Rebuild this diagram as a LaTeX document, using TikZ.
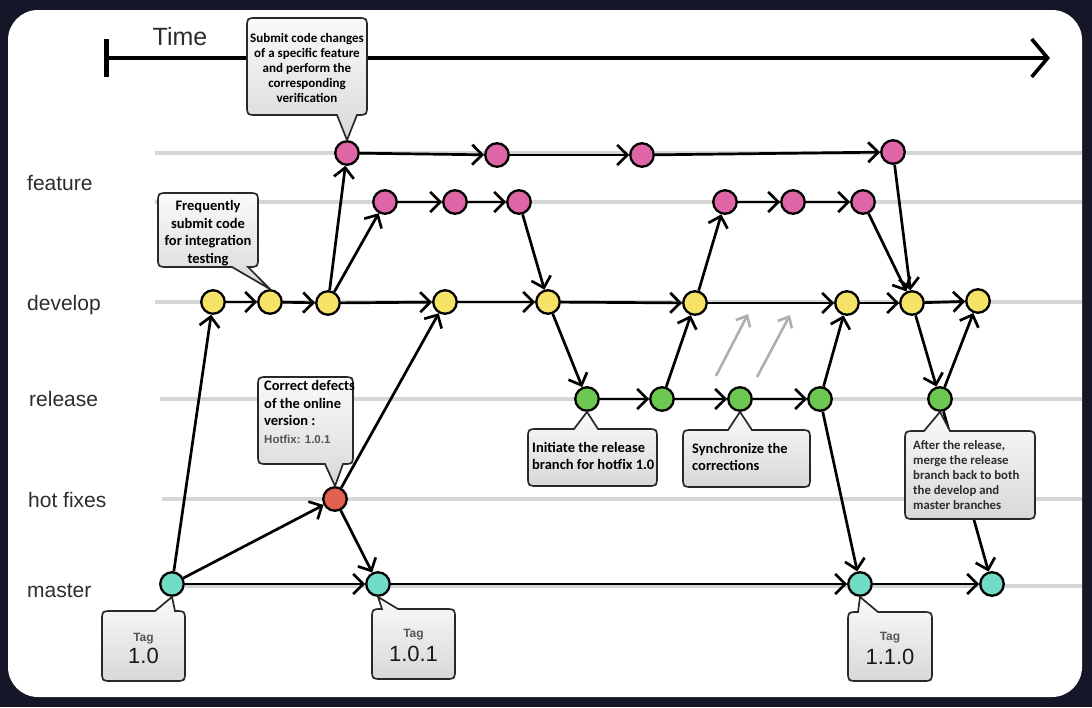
\documentclass[tikz,border=0pt]{standalone}
\usepackage{fontspec}
\setmainfont{Liberation Sans}
\newfontfamily\calfont{Carlito}
\usetikzlibrary{arrows.meta}
\definecolor{bgdark}{RGB}{21,23,41}
\definecolor{lanegray}{RGB}{214,214,214}
\definecolor{cpink}{RGB}{222,102,166}
\definecolor{cyellow}{RGB}{245,226,102}
\definecolor{cgreen}{RGB}{108,200,80}
\definecolor{cteal}{RGB}{112,220,198}
\definecolor{cred}{RGB}{226,96,80}
\definecolor{hintgray}{RGB}{175,175,175}
\definecolor{boxtop}{RGB}{250,250,250}
\definecolor{boxbot}{RGB}{216,216,216}
\definecolor{boxline}{RGB}{40,40,40}
\definecolor{labeltext}{RGB}{45,45,45}
\definecolor{tagtext}{RGB}{85,85,85}
\begin{document}
\begin{tikzpicture}[x=1pt,y=-1pt]
\tikzset{
  lane/.style={draw=lanegray, line width=3.6pt},
  commit/.style={circle, draw=black, line width=2.3pt, minimum size=23.5pt, inner sep=0pt},
  feat/.style={commit, fill=cpink},
  dev/.style={commit, fill=cyellow},
  rel/.style={commit, fill=cgreen},
  hot/.style={commit, fill=cred},
  mast/.style={commit, fill=cteal},
  flow/.style={draw=black, line width=2.7pt, -{Straight Barb[length=10pt,width=20pt,line width=2.7pt]}},
  hint/.style={draw=hintgray, line width=2.6pt, -{Straight Barb[length=9pt,width=16pt,line width=2.6pt]}},
  timeline/.style={draw=black, line width=4pt, {Bar[width=38pt,line width=5pt]}-{Straight Barb[length=16pt,width=38pt,line width=3.6pt]}},
  callbox/.style={draw=boxline, line width=1.7pt, top color=boxtop, bottom color=boxbot},
  lanelabel/.style={anchor=base west, font=\fontsize{21}{26}\selectfont, text=labeltext, inner sep=0pt},
  calltext/.style={font=\calfont\bfseries\fontsize{14.5}{17.5}\selectfont, text=black, inner sep=0pt},
  smalltext/.style={font=\calfont\bfseries\fontsize{12.8}{15}\selectfont, text=labeltext, inner sep=0pt},
  tagword/.style={anchor=base, font=\bfseries\fontsize{12}{14}\selectfont, text=tagtext, inner sep=0pt},
  tagnum/.style={anchor=base, font=\fontsize{22}{26}\selectfont, text=black!90, inner sep=0pt},
}
\useasboundingbox (0,0) rectangle (1092,707);
\fill[bgdark] (0,0) rectangle (1092,707);
\fill[white, rounded corners=30pt] (8,10) rectangle (1082,697);

% lanes
\foreach \yy/\xs in {153/155, 202/155, 302/155, 399/160, 499/162, 586/185}
  \draw[lane] (\xs,\yy) -- (1082,\yy);

% time axis
\node[anchor=base, font=\fontsize{25}{30}\selectfont, text=labeltext, inner sep=0pt] (time) at (180,45) {Time};
\coordinate (tstart) at (104,58);
\coordinate (tend) at (1050,58);
\draw[timeline] (tstart) -- (tend);

% lane labels
\node[lanelabel] (lfeature) at (27,190) {feature};
\node[lanelabel] (ldevelop) at (27,310) {develop};
\node[lanelabel] (lrelease) at (29,406) {release};
\node[lanelabel] (lhot) at (28,507) {hot fixes};
\node[lanelabel] (lmaster) at (27,597) {master};

% commits
\node[feat] (fa1) at (347,153) {};
\node[feat] (fa2) at (497,155) {};
\node[feat] (fa3) at (642,155) {};
\node[feat] (fa4) at (893,152) {};
\node[feat] (fb1) at (385,202) {};
\node[feat] (fb2) at (455,202) {};
\node[feat] (fb3) at (519,202) {};
\node[feat] (fb4) at (725,202) {};
\node[feat] (fb5) at (793,202) {};
\node[feat] (fb6) at (863,202) {};
\node[dev] (d1) at (213,302) {};
\node[dev] (d2) at (270,302) {};
\node[dev] (d3) at (328,303) {};
\node[dev] (d4) at (445,302) {};
\node[dev] (d5) at (548,302) {};
\node[dev] (d6) at (695,303) {};
\node[dev] (d7) at (847,303) {};
\node[dev] (d8) at (912,303) {};
\node[dev] (d9) at (978,301) {};
\node[rel] (r1) at (587,399) {};
\node[rel] (r2) at (662,399) {};
\node[rel] (r3) at (740,399) {};
\node[rel] (r4) at (820,399) {};
\node[rel] (r5) at (940,399) {};
\node[hot] (h1) at (335,499) {};
\node[mast] (m1) at (172,584) {};
\node[mast] (m2) at (378,584) {};
\node[mast] (m3) at (860,584) {};
\node[mast] (m4) at (992,584) {};

% connectors
\draw[flow] (fa1) -- (fa2);
\draw[flow] (fa2) -- (fa3);
\draw[flow] (fa3) -- (fa4);
\draw[flow] (fa4) -- (d8);
\draw[flow] (fb1) -- (fb2);
\draw[flow] (fb2) -- (fb3);
\draw[flow] (fb3) -- (d5);
\draw[flow] (fb4) -- (fb5);
\draw[flow] (fb5) -- (fb6);
\draw[flow] (fb6) -- (d8);
\draw[flow] (d1) -- (d2);
\draw[flow] (d2) -- (d3);
\draw[flow] (d3) -- (d4);
\draw[flow] (d4) -- (d5);
\draw[flow] (d5) -- (d6);
\draw[flow] (d6) -- (d7);
\draw[flow] (d7) -- (d8);
\draw[flow] (d8) -- (d9);
\draw[flow] (d3) -- (fa1);
\draw[flow] (d3) -- (fb1);
\draw[flow] (d6) -- (fb4);
\draw[flow] (d5) -- (r1);
\draw[flow] (d8) -- (r5);
\draw[flow] (r1) -- (r2);
\draw[flow] (r2) -- (r3);
\draw[flow] (r3) -- (r4);
\draw[flow] (r2) -- (d6);
\draw[flow] (r4) -- (d7);
\draw[flow] (r4) -- (m3);
\draw[flow] (r5) -- (d9);
\draw[flow] (r5) -- (m4);
\draw[flow] (m1) -- (m2);
\draw[flow] (m2) -- (m3);
\draw[flow] (m3) -- (m4);
\draw[flow] (m1) -- (d1);
\draw[flow] (m1) -- (h1);
\draw[flow] (h1) -- (m2);
\draw[flow] (h1) -- (d4);

% light hint arrows
\coordinate (g1s) at (716,376);
\coordinate (g1e) at (748,314);
\coordinate (g2s) at (757,377);
\coordinate (g2e) at (790,315);
\draw[hint] (g1s) -- (g1e);
\draw[hint] (g2s) -- (g2e);

% callouts
\path[callbox] (257,18) -- (357,18) .. controls (367,18) .. (367,28) -- (367,105) .. controls (367,115) .. (357,115) -- (fa1.north) -- (337,115) -- (257,115) .. controls (247,115) .. (247,105) -- (247,28) .. controls (247,18) .. (257,18) -- cycle;
\node[calltext, align=center, font=\calfont\bfseries\fontsize{13}{15}\selectfont] (c1) at (307,68) {Submit code changes\\of a specific feature\\and perform the\\corresponding\\verification};

\path[callbox] (168,193) -- (248,193) .. controls (258,193) .. (258,203) -- (258,257) .. controls (258,267) .. (248,267) -- (d2.north) -- (232,267) -- (168,267) .. controls (158,267) .. (158,257) -- (158,203) .. controls (158,193) .. (168,193) -- cycle;
\node[calltext, align=center, font=\calfont\bfseries\fontsize{14.5}{17.7}\selectfont] (c2) at (208,233) {Frequently\\submit code\\for integration\\testing};

\path[callbox] (268,377) -- (343,377) .. controls (353,377) .. (353,387) -- (353,454) .. controls (353,464) .. (343,464) -- (h1.north) -- (325,464) -- (268,464) .. controls (258,464) .. (258,454) -- (258,387) .. controls (258,377) .. (268,377) -- cycle;
\node[calltext, align=left, anchor=west] (c3) at (264,412) {Correct defects\\of the online\\version :\\{\rmfamily\bfseries\fontsize{11.5}{14}\selectfont\color{tagtext}Hotfix: 1.0.1}};

\path[callbox] (112,611) -- (155,611) -- (m1.south) -- (175,611) .. controls (185,611) .. (185,621) -- (185,671) .. controls (185,681) .. (175,681) -- (112,681) .. controls (102,681) .. (102,671) -- (102,621) .. controls (102,611) .. (112,611) -- cycle;
\node[tagword] (t1w) at (143.5,641) {Tag};
\node[tagnum] (t1n) at (143.5,663) {1.0};

\path[callbox] (382,609) -- (m2.south) -- (398,609) -- (445,609) .. controls (455,609) .. (455,619) -- (455,669) .. controls (455,679) .. (445,679) -- (382,679) .. controls (372,679) .. (372,669) -- (372,619) .. controls (372,609) .. (382,609) -- cycle;
\node[tagword] (t2w) at (413.5,637) {Tag};
\node[tagnum] (t2n) at (413.5,661) {1.0.1};

\path[callbox] (858,612) -- (m3.south) -- (878,612) -- (922,612) .. controls (932,612) .. (932,622) -- (932,671) .. controls (932,681) .. (922,681) -- (858,681) .. controls (848,681) .. (848,671) -- (848,622) .. controls (848,612) .. (858,612) -- cycle;
\node[tagword] (t3w) at (890,640) {Tag};
\node[tagnum] (t3n) at (890,664) {1.1.0};

\path[callbox] (538,429) -- (574,429) -- (r1.south) -- (598,429) -- (647,429) .. controls (657,429) .. (657,439) -- (657,476) .. controls (657,486) .. (647,486) -- (538,486) .. controls (528,486) .. (528,476) -- (528,439) .. controls (528,429) .. (538,429) -- cycle;
\node[calltext, align=left, anchor=west] (c4) at (532,456) {Initiate the release\\branch for hotfix 1.0};

\path[callbox] (693,430) -- (728,430) -- (r3.south) -- (752,430) -- (800,430) .. controls (810,430) .. (810,440) -- (810,477) .. controls (810,487) .. (800,487) -- (693,487) .. controls (683,487) .. (683,477) -- (683,440) .. controls (683,430) .. (693,430) -- cycle;
\node[calltext, align=left, anchor=west] (c5) at (692,457) {Synchronize the\\corrections};

\path[callbox] (915,431) -- (924,431) -- (r5.south) -- (950,431) -- (1025,431) .. controls (1035,431) .. (1035,441) -- (1035,509) .. controls (1035,519) .. (1025,519) -- (915,519) .. controls (905,519) .. (905,509) -- (905,441) .. controls (905,431) .. (915,431) -- cycle;
\node[smalltext, align=left, anchor=west] (c6) at (913,475) {After the release,\\merge the release\\branch back to both\\the develop and\\master branches};
\end{tikzpicture}
\end{document}
